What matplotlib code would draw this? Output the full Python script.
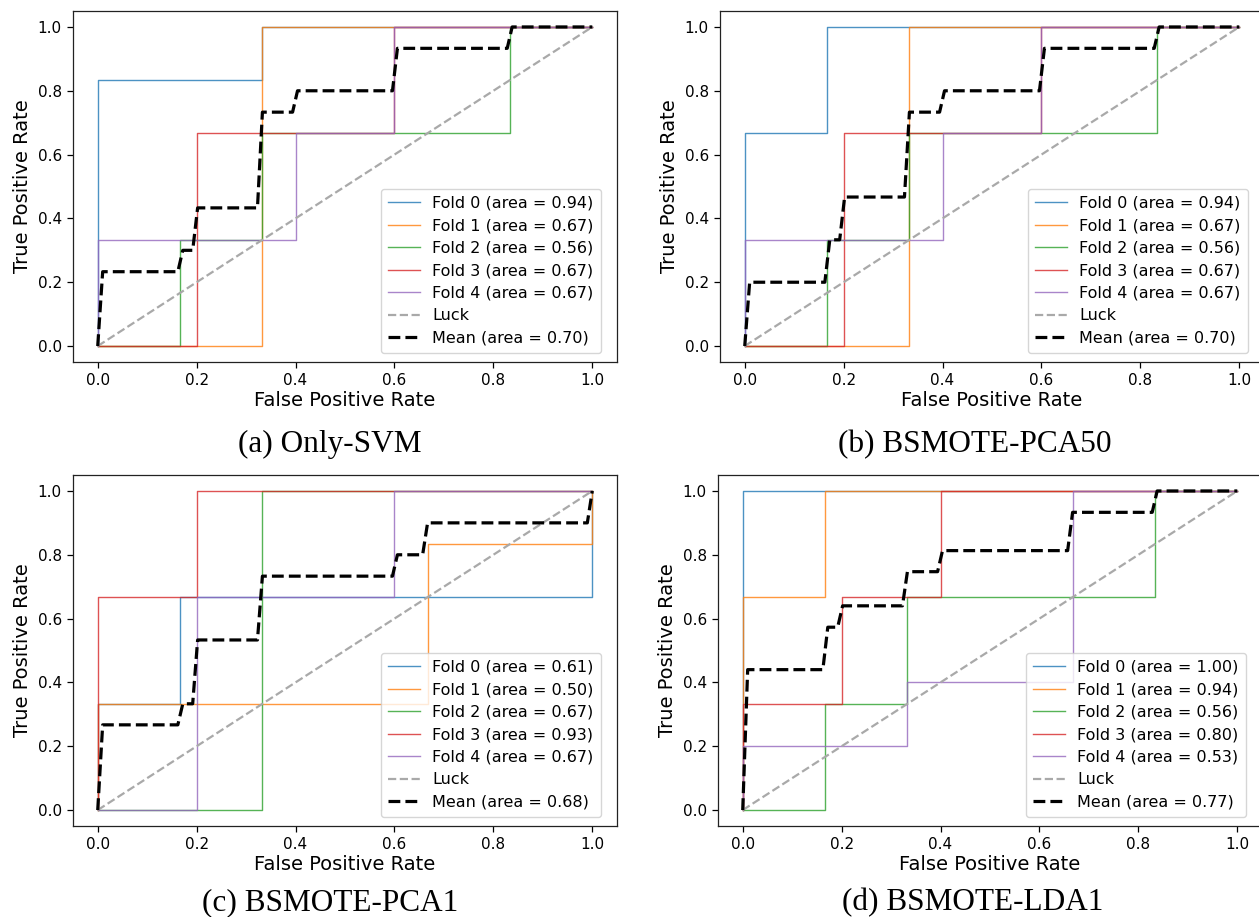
import matplotlib
matplotlib.use('Agg')
import matplotlib.pyplot as plt

'''Fold ROC curves read off the reference picture, one set per panel'''

foldNames = ['Fold 0', 'Fold 1', 'Fold 2', 'Fold 3', 'Fold 4']
foldColors = ['tab:blue', 'tab:orange', 'tab:green', 'tab:red', 'tab:purple']

# (a) Only-SVM
fprA = [
    [0, 0, 0.333, 0.333, 1],
    [0, 0.333, 0.333, 1],
    [0, 0.167, 0.167, 0.333, 0.333, 0.833, 0.833, 1],
    [0, 0.2, 0.2, 0.6, 0.6, 1],
    [0, 0, 0.4, 0.4, 0.6, 0.6, 1],
]
tprA = [
    [0, 0.833, 0.833, 1, 1],
    [0, 0, 1, 1],
    [0, 0, 0.333, 0.333, 0.667, 0.667, 1, 1],
    [0, 0, 0.667, 0.667, 1, 1],
    [0, 0.333, 0.333, 0.667, 0.667, 1, 1],
]
aucA = [0.94, 0.67, 0.56, 0.67, 0.67]
meanFprA = [0, 0.010, 0.162, 0.172, 0.192, 0.202, 0.323, 0.333, 0.394, 0.404, 0.596, 0.606, 0.828, 0.838, 1.0]
meanTprA = [0, 0.233, 0.233, 0.300, 0.300, 0.433, 0.433, 0.733, 0.733, 0.800, 0.800, 0.933, 0.933, 1.0, 1.0]
meanAucA = 0.70

# (b) BSMOTE-PCA50
fprB = [
    [0, 0, 0.167, 0.167, 1],
    [0, 0.333, 0.333, 1],
    [0, 0.167, 0.167, 0.333, 0.333, 0.833, 0.833, 1],
    [0, 0.2, 0.2, 0.6, 0.6, 1],
    [0, 0, 0.4, 0.4, 0.6, 0.6, 1],
]
tprB = [
    [0, 0.667, 0.667, 1, 1],
    [0, 0, 1, 1],
    [0, 0, 0.333, 0.333, 0.667, 0.667, 1, 1],
    [0, 0, 0.667, 0.667, 1, 1],
    [0, 0.333, 0.333, 0.667, 0.667, 1, 1],
]
aucB = [0.94, 0.67, 0.56, 0.67, 0.67]
meanFprB = [0, 0.010, 0.162, 0.172, 0.192, 0.202, 0.323, 0.333, 0.394, 0.404, 0.596, 0.606, 0.828, 0.838, 1.0]
meanTprB = [0, 0.200, 0.200, 0.333, 0.333, 0.467, 0.467, 0.733, 0.733, 0.800, 0.800, 0.933, 0.933, 1.0, 1.0]
meanAucB = 0.70

# (c) BSMOTE-PCA1
fprC = [
    [0, 0, 0.167, 0.167, 1, 1],
    [0, 0, 0.667, 0.667, 1, 1],
    [0, 0.333, 0.333, 1],
    [0, 0, 0.2, 0.2, 1],
    [0, 0.2, 0.2, 0.6, 0.6, 1],
]
tprC = [
    [0, 0.333, 0.333, 0.667, 0.667, 1],
    [0, 0.333, 0.333, 0.833, 0.833, 1],
    [0, 0, 1, 1],
    [0, 0.667, 0.667, 1, 1],
    [0, 0, 0.667, 0.667, 1, 1],
]
aucC = [0.61, 0.50, 0.67, 0.93, 0.67]
meanFprC = [0, 0.010, 0.162, 0.172, 0.192, 0.202, 0.323, 0.333, 0.596, 0.606, 0.657, 0.667, 0.990, 1.0]
meanTprC = [0, 0.267, 0.267, 0.333, 0.333, 0.533, 0.533, 0.733, 0.733, 0.800, 0.800, 0.900, 0.900, 1.0]
meanAucC = 0.68

# (d) BSMOTE-LDA1
fprD = [
    [0, 0, 1],
    [0, 0, 0.167, 0.167, 1],
    [0, 0.167, 0.167, 0.333, 0.333, 0.833, 0.833, 1],
    [0, 0, 0.2, 0.2, 0.4, 0.4, 1],
    [0, 0, 0.333, 0.333, 0.667, 0.667, 1],
]
tprD = [
    [0, 1, 1],
    [0, 0.667, 0.667, 1, 1],
    [0, 0, 0.333, 0.333, 0.667, 0.667, 1, 1],
    [0, 0.333, 0.333, 0.667, 0.667, 1, 1],
    [0, 0.2, 0.2, 0.4, 0.4, 1, 1],
]
aucD = [1.00, 0.94, 0.56, 0.80, 0.53]
meanFprD = [0, 0.010, 0.162, 0.172, 0.192, 0.202, 0.323, 0.333, 0.394, 0.404, 0.657, 0.667, 0.828, 0.838, 1.0]
meanTprD = [0, 0.440, 0.440, 0.573, 0.573, 0.640, 0.640, 0.747, 0.747, 0.813, 0.813, 0.933, 0.933, 1.0, 1.0]
meanAucD = 0.77

captions = ['(a) Only-SVM', '(b) BSMOTE-PCA50', '(c) BSMOTE-PCA1', '(d) BSMOTE-LDA1']


def plotRoc(ax, fprs, tprs, aucs, meanFpr, meanTpr, meanAuc) -> None:
    """
    Draws one ROC panel: the five folds, the luck diagonal and the mean curve

    Args:
        ax: axes to draw into
        fprs, tprs: per fold false / true positive rates
        aucs: per fold area values for the legend
        meanFpr, meanTpr: the mean curve
        meanAuc: area of the mean curve

    Returns:
        None
    """
    for i in range(len(fprs)):
        ax.plot(fprs[i], tprs[i], lw=1, alpha=0.8, color=foldColors[i],
                label=f'{foldNames[i]} (area = {aucs[i]:.2f})')
    ax.plot([0, 1], [0, 1], linestyle='--', lw=1.6, color='darkgray', label='Luck')
    ax.plot(meanFpr, meanTpr, 'k--', lw=2.3, label=f'Mean (area = {meanAuc:.2f})')

    ax.set_xlim([-0.05, 1.05])
    ax.set_ylim([-0.05, 1.05])
    ax.set_xticks([0, 0.2, 0.4, 0.6, 0.8, 1.0])
    ax.set_yticks([0, 0.2, 0.4, 0.6, 0.8, 1.0])
    ax.tick_params(labelsize=11, length=4.5, width=0.9)
    for spine in ax.spines.values():
        spine.set_linewidth(0.9)
        spine.set_color('#222222')
    ax.set_xlabel('False Positive Rate', fontsize=14, labelpad=2)
    ax.set_ylabel('True Positive Rate', fontsize=14, labelpad=4)
    ax.legend(loc='lower right', bbox_to_anchor=(0.9706, 0.0256), borderaxespad=0,
              fontsize=11.5, labelspacing=0.47, handlelength=2.0, borderpad=0.45)


if __name__ == '__main__':
    W, H = 1259, 917
    fig = plt.figure(figsize=(W / 100, H / 100), dpi=100)

    #axes boxes in pixels: left, top, width, height
    boxes = [(73, 11, 544, 351), (720, 11, 544, 351), (73, 475, 544, 351), (718, 475, 544, 351)]
    axes = [fig.add_axes([l / W, 1 - (t + h) / H, w / W, h / H]) for (l, t, w, h) in boxes]

    plotRoc(axes[0], fprA, tprA, aucA, meanFprA, meanTprA, meanAucA)
    plotRoc(axes[1], fprB, tprB, aucB, meanFprB, meanTprB, meanAucB)
    plotRoc(axes[2], fprC, tprC, aucC, meanFprC, meanTprC, meanAucC)
    plotRoc(axes[3], fprD, tprD, aucD, meanFprD, meanTprD, meanAucD)

    #subfigure captions, pixel centre x and baseline y
    captionPos = [(330, 452), (975, 452), (330, 910), (973, 910)]
    for (x, y), cap in zip(captionPos, captions):
        fig.text(x / W, 1 - y / H, cap, ha='center', va='baseline',
                 fontsize=22.5, family='Liberation Serif')

    fig.savefig('out.png', dpi=100)
